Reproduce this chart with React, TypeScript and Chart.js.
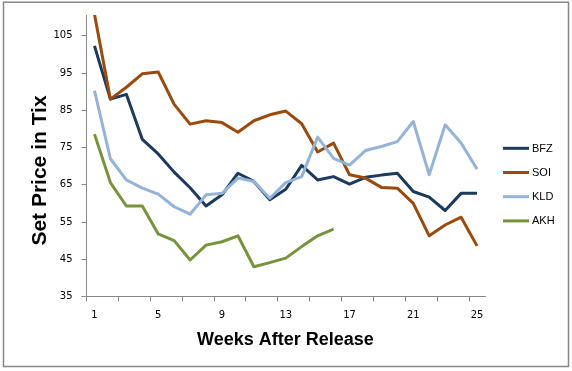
import React, { useEffect, useRef } from 'react';
import { Chart, registerables } from 'chart.js';

Chart.register(...registerables);

const weeks = ['1', '2', '3', '4', '5', '6', '7', '8', '9', '10', '11', '12', '13', '14', '15', '16', '17', '18', '19', '20', '21', '22', '23', '24', '25'];
const yTickValues = [35, 45, 55, 65, 75, 85, 95, 105];
const yMin = 35;
const yMax = 110.6;

const bfz = [102.3, 88, 89.3, 77.2, 73.3, 68.4, 64.2, 59.3, 62.3, 68.1, 65.9, 61, 63.8, 70.2, 66.3, 67.2, 65.2, 67.0, 67.6, 68.1, 63.2, 61.7, 58.1, 62.7, 62.7];
const soi = [110.8, 88, 91.2, 94.8, 95.3, 86.6, 81.3, 82.2, 81.7, 79.1, 82.2, 83.8, 84.8, 81.4, 73.8, 76.2, 67.7, 66.8, 64.3, 64.1, 60, 51.3, 54.2, 56.3, 48.6];
const kld = [90.3, 72, 66.3, 64.1, 62.5, 59.1, 57.1, 62.3, 62.7, 66.8, 65.9, 61.4, 65.6, 67.2, 77.8, 72.1, 70.3, 74.2, 75.3, 76.6, 82, 67.7, 81.1, 76.2, 69.2];
const akh = [78.6, 65.6, 59.3, 59.3, 51.8, 50, 44.8, 48.8, 49.7, 51.3, 43, 44.1, 45.3, 48.4, 51.3, 53.1];

const seriesNames = ['BFZ', 'SOI', 'KLD', 'AKH'];
const seriesColors = ['#1B3A5E', '#9A4A0C', '#95B3D7', '#77933C'];
const seriesData = [bfz, soi, kld, akh];

const xTitle = 'Weeks After Release';
const yTitle = 'Set Price in Tix';

const framePlugin = {
  id: 'frame',
  afterDraw(chart: any) {
    const ctx = chart.ctx;
    ctx.save();
    // outer border
    ctx.strokeStyle = '#878787';
    ctx.lineWidth = 1.5;
    ctx.strokeRect(3.5, 2.2, 565, 364.3);

    // axis titles
    ctx.fillStyle = '#000';
    ctx.font = 'bold 18px "Liberation Sans", Arial, sans-serif';
    ctx.textAlign = 'center';
    ctx.textBaseline = 'alphabetic';
    ctx.fillText(xTitle, 285.5, 345);

    ctx.save();
    ctx.translate(46, 170.5);
    ctx.rotate(-Math.PI / 2);
    ctx.font = 'bold 21px "Liberation Sans", Arial, sans-serif';
    ctx.fillText(yTitle, 0, 0);
    ctx.restore();

    // legend
    chart.data.datasets.forEach((ds: any, i: number) => {
      const y = 148.3 + i * 24.2;
      ctx.strokeStyle = ds.borderColor;
      ctx.lineWidth = 3;
      ctx.lineCap = 'butt';
      ctx.beginPath();
      ctx.moveTo(503, y);
      ctx.lineTo(529, y);
      ctx.stroke();
      ctx.fillStyle = '#000';
      ctx.font = '11px "Liberation Sans", Arial, sans-serif';
      ctx.textAlign = 'left';
      ctx.textBaseline = 'middle';
      ctx.fillText(ds.label, 532, y + 0.5);
    });
    ctx.restore();
  },
};

export default function App() {
  const ref = useRef<HTMLCanvasElement | null>(null);

  useEffect(() => {
    if (!ref.current) return;
    const tickFont = { family: '"DejaVu Sans", Verdana, sans-serif', size: 10 };
    const chart = new Chart(ref.current, {
      type: 'line',
      data: {
        labels: weeks,
        datasets: seriesData.map((d, i) => ({
          label: seriesNames[i],
          data: d,
          borderColor: seriesColors[i],
          backgroundColor: seriesColors[i],
          borderWidth: 3,
          pointRadius: 0,
          pointHoverRadius: 0,
          tension: 0,
          borderJoinStyle: 'round' as const,
          borderCapStyle: 'butt' as const,
          fill: false,
          order: 3 - i,
        })),
      },
      options: {
        responsive: false,
        animation: false,
        events: [],
        layout: { padding: { left: 46.5, right: 87, top: 15, bottom: 44.5 } },
        plugins: {
          legend: { display: false },
          tooltip: { enabled: false },
          title: { display: false },
        },
        scales: {
          x: {
            type: 'category',
            offset: true,
            afterFit: (s: any) => {
              s.height = 30;
            },
            ticks: {
              autoSkip: false,
              maxRotation: 0,
              minRotation: 0,
              padding: 7.5,
              color: '#000',
              font: tickFont,
              callback: (_v: any, i: number) => (i % 4 === 0 ? weeks[i] : ''),
            },
            grid: {
              offset: true,
              drawOnChartArea: false,
              drawTicks: true,
              tickLength: 5,
              tickWidth: 1,
              tickColor: (c: any) => (c.index % 2 === 0 ? '#888888' : 'rgba(0,0,0,0)'),
            },
            border: { display: true, color: '#888888', width: 1 },
          },
          y: {
            type: 'linear',
            min: yMin,
            max: yMax,
            afterBuildTicks: (s: any) => {
              s.ticks = yTickValues.map((v) => ({ value: v }));
            },
            afterFit: (s: any) => {
              s.width = 40;
            },
            ticks: {
              padding: 9,
              color: '#000',
              font: tickFont,
            },
            grid: {
              drawOnChartArea: false,
              drawTicks: true,
              tickLength: 5,
              tickWidth: 1,
              tickColor: '#888888',
            },
            border: { display: true, color: '#888888', width: 1 },
          },
        },
      },
      plugins: [framePlugin],
    });
    return () => chart.destroy();
  }, []);

  return (
    <div style={{ position: 'absolute', left: 0, top: 0, width: 572, height: 371, background: '#fff' }}>
      <canvas ref={ref} width={572} height={371} style={{ display: 'block', width: 572, height: 371 }} />
    </div>
  );
}
